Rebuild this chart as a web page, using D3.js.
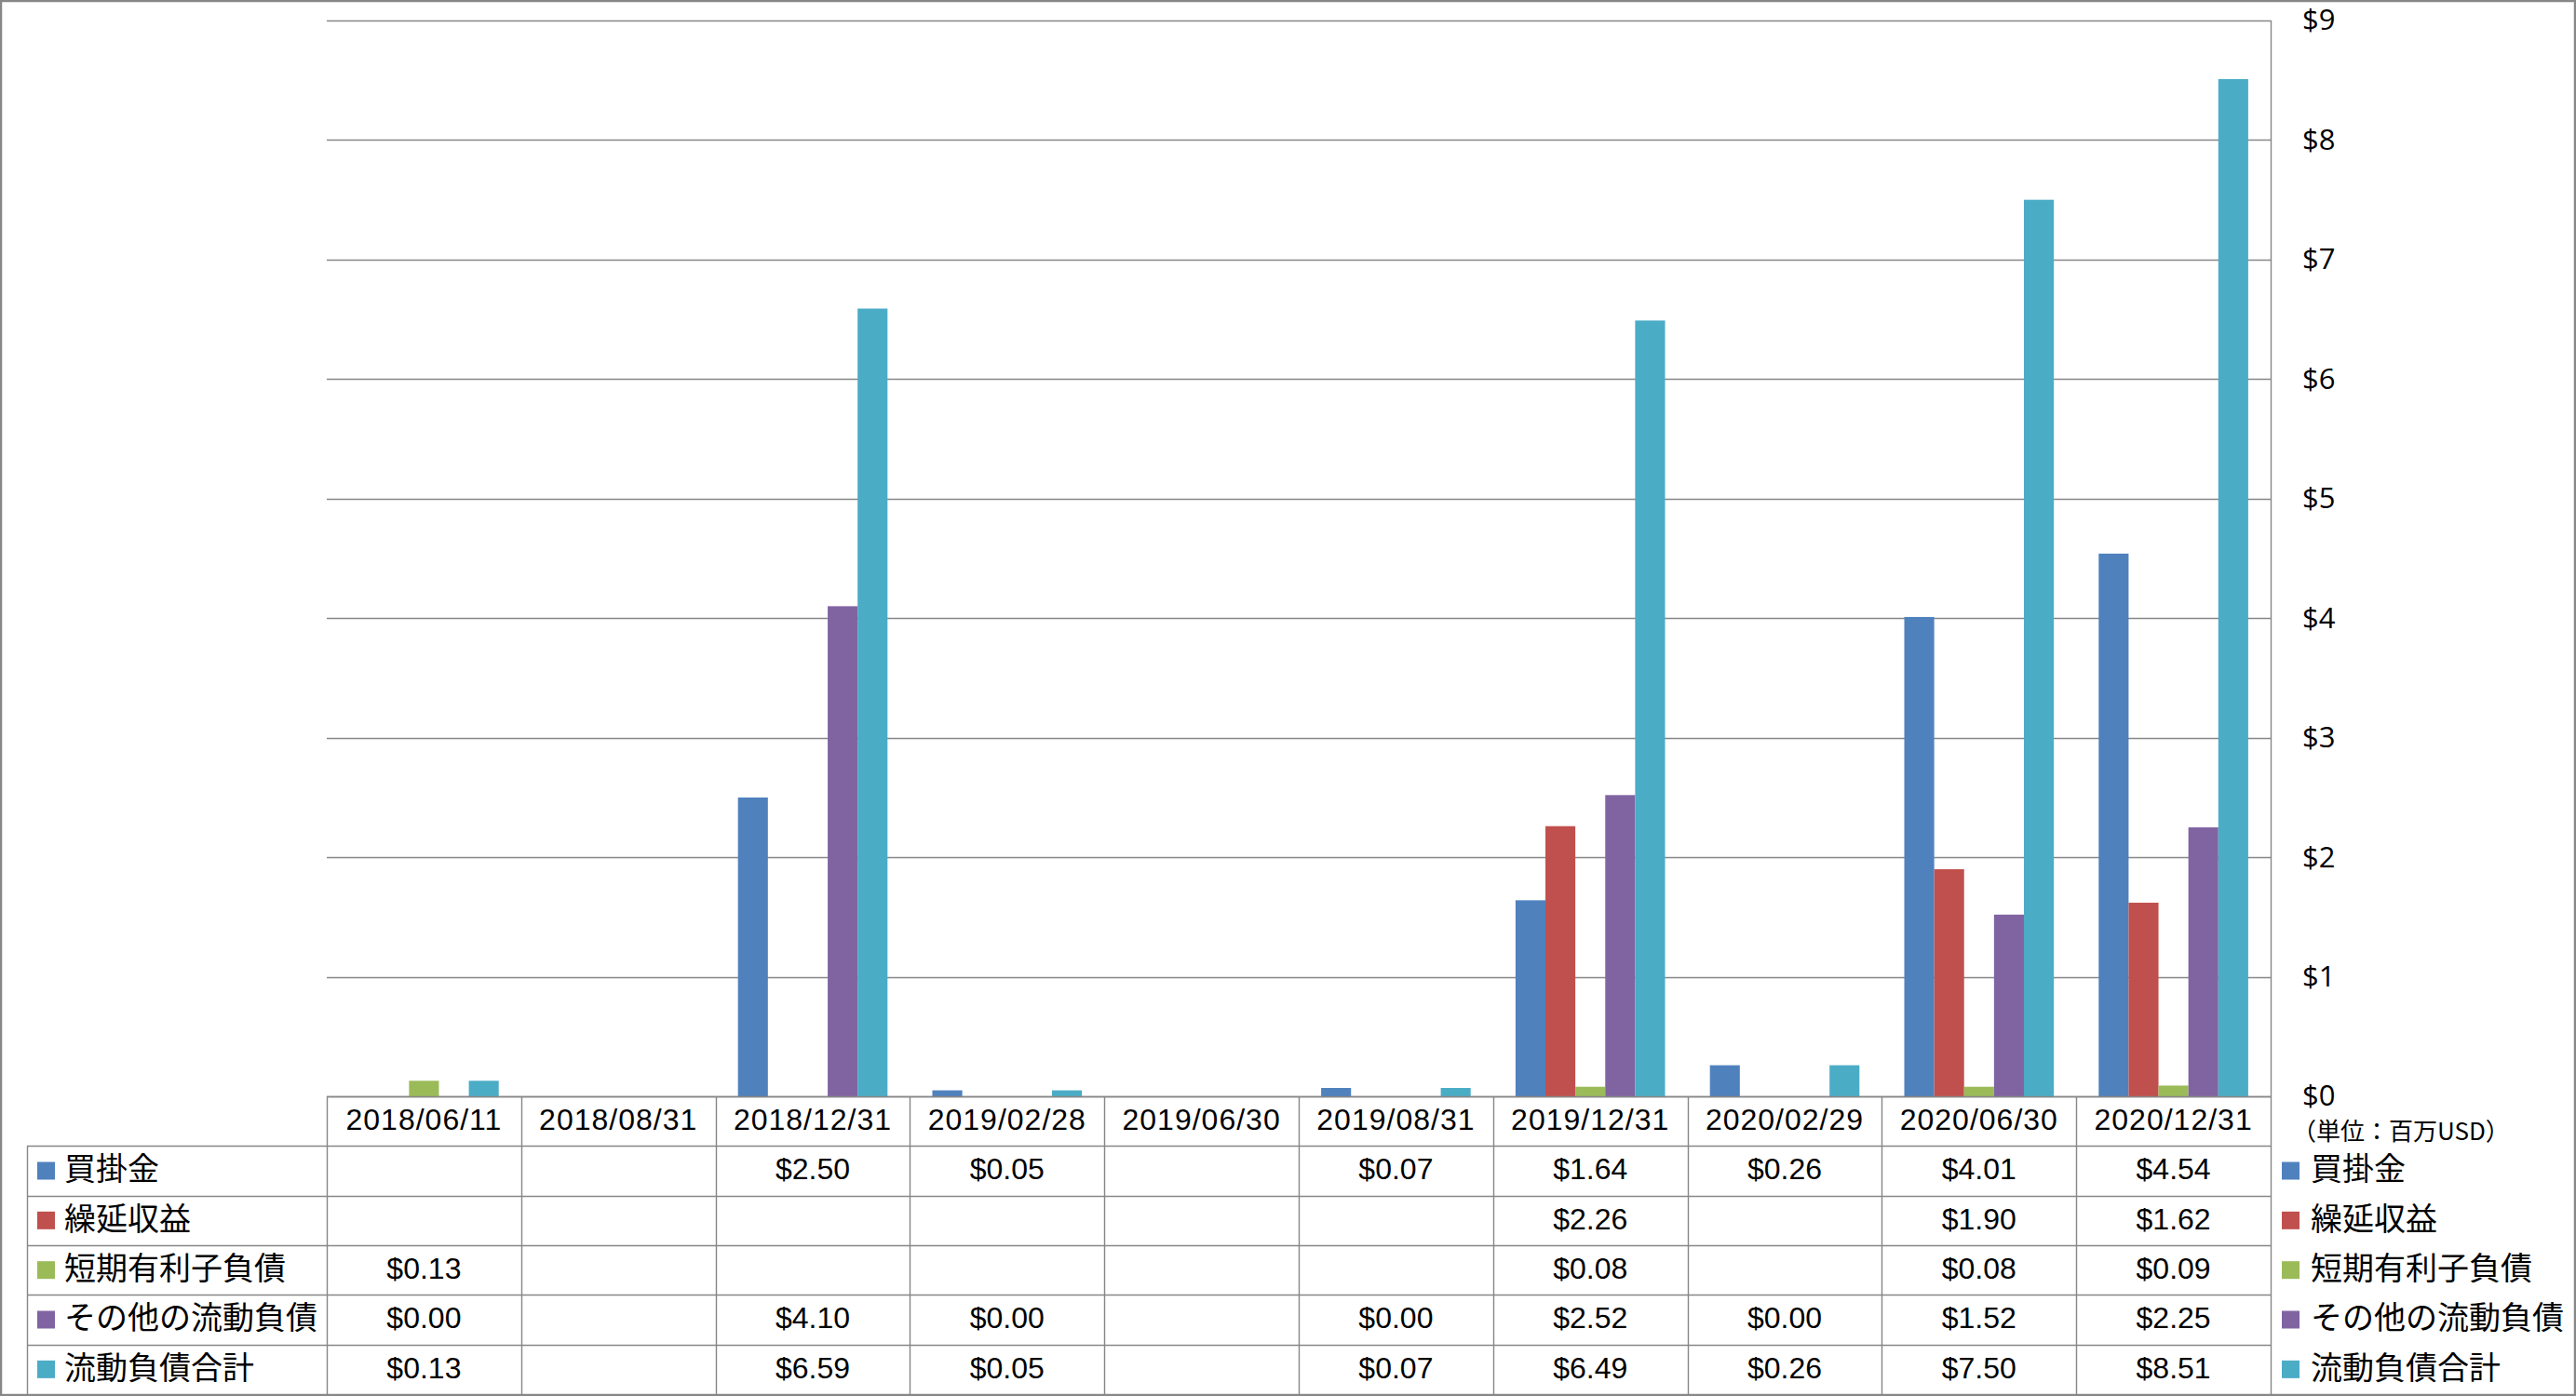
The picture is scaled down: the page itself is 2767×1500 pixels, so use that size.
<!DOCTYPE html>
<html>
<head>
<meta charset="utf-8">
<script src="https://cdn.jsdelivr.net/npm/d3@7"></script>
<style>
  html, body { margin: 0; padding: 0; background: #fff; }
  svg { display: block; }
</style>
</head>
<body>
<svg id="chart" width="2767" height="1500"></svg>
<script>
// ---- data ----
const categories = ["2018/06/11","2018/08/31","2018/12/31","2019/02/28","2019/06/30","2019/08/31","2019/12/31","2020/02/29","2020/06/30","2020/12/31"];
const seriesNames = ["買掛金","繰延収益","短期有利子負債","その他の流動負債","流動負債合計"];
const accountsPayable   = [null, null, 2.50, 0.05, null, 0.07, 1.64, 0.26, 4.01, 4.54];
const deferredRevenue   = [null, null, null, null, null, null, 2.26, null, 1.90, 1.62];
const shortTermDebt     = [0.13, null, null, null, null, null, 0.08, null, 0.08, 0.09];
const otherCurrentLiab  = [0.00, null, 4.10, 0.00, null, 0.00, 2.52, 0.00, 1.52, 2.25];
const totalCurrentLiab  = [0.13, null, 6.59, 0.05, null, 0.07, 6.49, 0.26, 7.50, 8.51];
const yTicks = [0,1,2,3,4,5,6,7,8,9];
const unitLabel = "（単位：百万USD）";

const seriesValues = [accountsPayable, deferredRevenue, shortTermDebt, otherCurrentLiab, totalCurrentLiab];

// ---- styles ----
const seriesColors = ["#4F81BD","#C0504D","#9BBB59","#8064A2","#4BACC6"];
const lineColor = "#878787";
const numFont = "'Liberation Sans', Arial, sans-serif";
const cjkFont = "'Noto Sans CJK JP', 'Noto Sans', sans-serif";
const axisFont = "'Open Sans', 'Noto Sans', sans-serif";

const svg = d3.select("#chart");
const W = 2767, H = 1500;
const plotL = 351, plotR = 2439, plotT = 22, plotB = 1178;
const tableL = 29, tableB = 1498;

svg.append("rect").attr("x",0).attr("y",0).attr("width",W).attr("height",H).attr("fill","#fff");

const x0 = d3.scaleBand().domain(categories).range([plotL, plotR]).paddingInner(0).paddingOuter(0);
const x1 = d3.scaleBand().domain(d3.range(seriesNames.length)).range([0, x0.bandwidth()]).paddingInner(0).paddingOuter(0.75);
const y = d3.scaleLinear().domain([0, 9]).range([plotB, plotT]);

// gridlines
svg.append("g").selectAll("line").data(yTicks).join("line")
  .attr("x1", plotL).attr("x2", plotR)
  .attr("y1", d => Math.round(y(d)) + 0.5).attr("y2", d => Math.round(y(d)) + 0.5)
  .attr("stroke", lineColor).attr("stroke-width", 1.4);
// plot right edge
svg.append("line").attr("x1", plotR+0.5).attr("x2", plotR+0.5).attr("y1", y(9)).attr("y2", plotB)
  .attr("stroke", lineColor).attr("stroke-width", 1.4);

// bars
const barData = [];
seriesValues.forEach((vals, si) => vals.forEach((v, ci) => {
  if (v !== null) barData.push({si, ci, v});
}));
svg.append("g").selectAll("rect").data(barData).join("rect")
  .attr("x", d => x0(categories[d.ci]) + x1(d.si))
  .attr("width", x1.bandwidth())
  .attr("y", d => y(d.v))
  .attr("height", d => y(0) - y(d.v))
  .attr("fill", d => seriesColors[d.si]);

// right axis
const axis = d3.axisRight(y).tickValues(yTicks).tickFormat(d => "$" + d).tickSize(0).tickPadding(34);
const ag = svg.append("g").attr("transform", `translate(${plotR},0)`).call(axis);
ag.select(".domain").remove();
ag.selectAll("text").attr("font-family", axisFont).attr("font-size", 31).attr("fill", "#000");

// unit label
svg.append("text").attr("x", 2462).attr("y", 1218).attr("dominant-baseline","middle")
  .attr("font-family", cjkFont).attr("font-size", 26).attr("fill","#000").text(unitLabel);

// ---- data table ----
const rowKeys = ["header"].concat(seriesNames);
const rowY = d3.scaleBand().domain(rowKeys).range([plotB, tableB]);
const tg = svg.append("g");

// horizontal lines
rowKeys.forEach((k, i) => {
  const yy = Math.round(rowY(k)) + 0.5;
  tg.append("line").attr("x1", i === 0 ? plotL : tableL).attr("x2", plotR)
    .attr("y1", yy).attr("y2", yy).attr("stroke", lineColor).attr("stroke-width", 1.4);
});
// vertical lines
categories.forEach(c => {
  const xx = Math.round(x0(c)) + 0.5;
  tg.append("line").attr("x1", xx).attr("x2", xx).attr("y1", plotB).attr("y2", tableB)
    .attr("stroke", lineColor).attr("stroke-width", 1.4);
});
tg.append("line").attr("x1", plotR+0.5).attr("x2", plotR+0.5).attr("y1", plotB).attr("y2", tableB)
  .attr("stroke", lineColor).attr("stroke-width", 1.4);
tg.append("line").attr("x1", tableL+0.5).attr("x2", tableL+0.5).attr("y1", rowY(seriesNames[0])).attr("y2", tableB)
  .attr("stroke", lineColor).attr("stroke-width", 1.4);

// header dates
tg.selectAll("text.date").data(categories).join("text").attr("class","date")
  .attr("x", d => x0(d) + x0.bandwidth()/2)
  .attr("y", rowY("header") + rowY.bandwidth()/2 + 1)
  .attr("text-anchor","middle").attr("dominant-baseline","middle")
  .attr("font-family", numFont).attr("font-size", 32).attr("letter-spacing", 1).attr("fill","#000")
  .text(d => d);

const fmt = d3.format(".2f");
seriesNames.forEach((name, si) => {
  const cy = rowY(name) + rowY.bandwidth()/2;
  // legend key + label
  tg.append("rect").attr("x", 40).attr("y", cy - 9.5).attr("width", 19).attr("height", 19).attr("fill", seriesColors[si]);
  tg.append("text").attr("x", 69).attr("y", cy + 1).attr("dominant-baseline","middle")
    .attr("font-family", cjkFont).attr("font-size", 34).attr("fill","#000").text(name);
  // values
  tg.selectAll(null).data(seriesValues[si].map((v, ci) => ({v, ci})).filter(d => d.v !== null)).join("text")
    .attr("x", d => x0(categories[d.ci]) + x0.bandwidth()/2)
    .attr("y", cy + 1)
    .attr("text-anchor","middle").attr("dominant-baseline","middle")
    .attr("font-family", numFont).attr("font-size", 32).attr("fill","#000")
    .text(d => "$" + fmt(d.v));
  // right legend
  svg.append("rect").attr("x", 2451).attr("y", cy - 9.5).attr("width", 19).attr("height", 19).attr("fill", seriesColors[si]);
  svg.append("text").attr("x", 2482).attr("y", cy + 1).attr("dominant-baseline","middle")
    .attr("font-family", cjkFont).attr("font-size", 34).attr("fill","#000").text(name);
});

// outer border
svg.append("rect").attr("x", 1).attr("y", 1).attr("width", W - 2).attr("height", H - 2)
  .attr("fill","none").attr("stroke", lineColor).attr("stroke-width", 2.5);
</script>
</body>
</html>
